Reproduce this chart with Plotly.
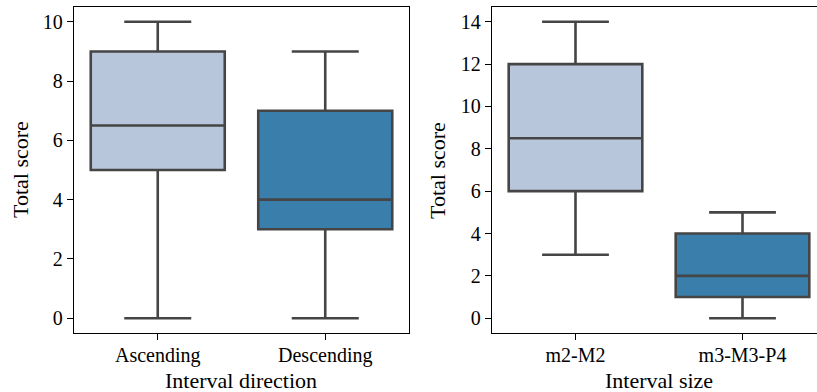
import plotly.graph_objects as go

# Left panel: interval direction
dir_categories = ["Ascending", "Descending"]
dir_lower = [0, 0]
dir_q1 = [5, 3]
dir_median = [6.5, 4]
dir_q3 = [9, 7]
dir_upper = [10, 9]

# Right panel: interval size
size_categories = ["m2-M2", "m3-M3-P4"]
size_lower = [3, 0]
size_q1 = [6, 1]
size_median = [8.5, 2]
size_q3 = [12, 4]
size_upper = [14, 5]

left_ticks = [0, 2, 4, 6, 8, 10]
right_ticks = [0, 2, 4, 6, 8, 10, 12, 14]

box_colors = ["#b8c6db", "#3a7fab"]
line_color = "#454545"
FONT = "Liberation Serif"

W, H = 817, 392
fig = go.Figure()

for i, cat in enumerate(dir_categories):
    fig.add_trace(go.Box(
        x=[cat], lowerfence=[dir_lower[i]], q1=[dir_q1[i]], median=[dir_median[i]],
        q3=[dir_q3[i]], upperfence=[dir_upper[i]],
        fillcolor=box_colors[i], line=dict(color=line_color, width=2.6),
        width=0.8, whiskerwidth=0.5, boxpoints=False, showlegend=False,
        xaxis="x", yaxis="y", hoverinfo="skip"))

for i, cat in enumerate(size_categories):
    fig.add_trace(go.Box(
        x=[cat], lowerfence=[size_lower[i]], q1=[size_q1[i]], median=[size_median[i]],
        q3=[size_q3[i]], upperfence=[size_upper[i]],
        fillcolor=box_colors[i], line=dict(color=line_color, width=2.6),
        width=0.8, whiskerwidth=0.5, boxpoints=False, showlegend=False,
        xaxis="x2", yaxis="y2", hoverinfo="skip"))

tickfont = dict(family=FONT, size=20, color="#000000")
axis_common = dict(showgrid=False, zeroline=False, showline=True, linecolor="#000000",
                   linewidth=1.3, ticks="outside", ticklen=6, tickwidth=1.3,
                   tickcolor="#000000", tickfont=tickfont)

fig.update_layout(
    width=W, height=H,
    margin=dict(l=0, r=0, t=7, b=59),
    paper_bgcolor="white", plot_bgcolor="white",
    xaxis=dict(domain=[74 / W, 409 / W], range=[-0.5, 1.5], mirror=True,
               categoryorder="array", categoryarray=dir_categories, anchor="y",
               ticklabelstandoff=-2, **axis_common),
    yaxis=dict(range=[-0.5, 10.5], tickvals=left_ticks, mirror=True, anchor="x",
               **axis_common),
    xaxis2=dict(domain=[492 / W, 1.0], range=[-0.5, 1.5 - 9 / 167], mirror=True,
                categoryorder="array", categoryarray=size_categories, anchor="y2",
                ticklabelstandoff=-2, **axis_common),
    yaxis2=dict(range=[-0.7, 14.7], tickvals=right_ticks, mirror=False, anchor="x2",
                **axis_common),
)

def py(p):
    return (333 - p) / 326

titlefont = dict(family=FONT, size=22, color="#000000")
anns = [
    dict(text="Interval direction", x=241.5 / W, y=py(380)),
    dict(text="Interval size", x=659 / W, y=py(380)),
    dict(text="Total score", x=20 / W, y=py(170), textangle=-90),
    dict(text="Total score", x=437 / W, y=py(170), textangle=-90),
]
for a in anns:
    fig.add_annotation(xref="paper", yref="paper", xanchor="center", yanchor="middle",
                       showarrow=False, font=titlefont, **a)

fig.write_html("out.html", config={"displayModeBar": False},
               post_script="document.body.style.margin='0px';document.body.style.overflow='hidden';")
